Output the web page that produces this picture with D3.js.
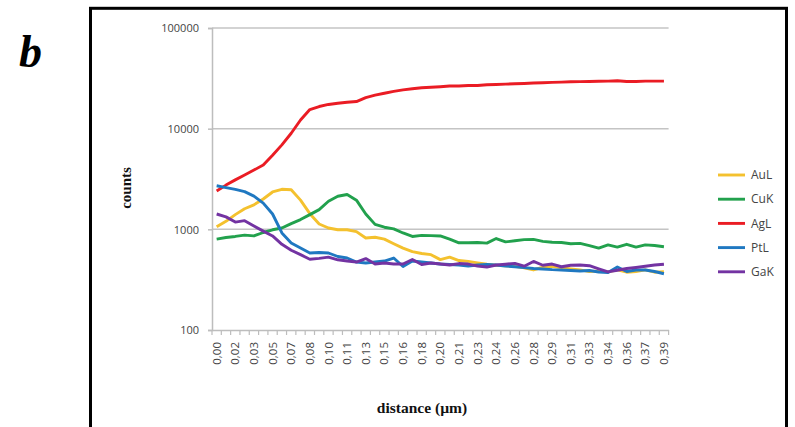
<!DOCTYPE html>
<html><head><meta charset="utf-8">
<script src="https://cdn.jsdelivr.net/npm/d3@7/dist/d3.min.js"></script>
<style>html,body{margin:0;padding:0;background:#fff;}svg{display:block;}</style>
</head><body>
<svg id="c" width="795" height="427"></svg>
<script>
const categories = ["0,00","0,01","0,02","0,02","0,03","0,04","0,05","0,06","0,07","0,07",
"0,08","0,09","0,10","0,11","0,11","0,12","0,13","0,14","0,15","0,15",
"0,16","0,17","0,18","0,19","0,20","0,20","0,21","0,22","0,23","0,24",
"0,24","0,25","0,26","0,27","0,28","0,28","0,29","0,30","0,31","0,32",
"0,33","0,33","0,34","0,35","0,36","0,37","0,37","0,38","0,39"];
const AuL = [1060,1200,1400,1600,1750,2000,2350,2500,2470,1950,
1430,1130,1030,990,990,950,820,835,800,720,
650,600,575,560,500,530,490,480,465,450,
440,435,430,415,395,420,430,415,405,395,
380,385,378,395,375,380,395,375,380];
const CuK = [800,830,850,875,860,930,990,1030,1140,1250,
1400,1570,1900,2130,2220,1950,1420,1120,1050,1010,
920,850,870,865,860,800,735,735,740,730,
810,750,770,790,795,760,745,740,720,725,
690,650,700,665,710,665,700,690,672];
const AgL = [2400,2750,3100,3460,3880,4350,5450,6900,9000,12200,
15500,16600,17400,17900,18300,18600,20300,21500,22500,23500,
24300,24900,25500,25800,26100,26500,26500,26800,26800,27300,
27500,27700,27900,28100,28400,28600,28800,29000,29200,29300,
29400,29600,29700,29900,29400,29400,29700,29700,29700];
const PtL = [2710,2600,2490,2370,2140,1820,1420,920,731,652,
582,588,582,537,519,473,463,473,484,519,
427,484,473,463,452,447,442,432,442,447,
442,432,425,417,408,404,398,394,390,386,
390,377,373,422,381,394,394,381,362];
const GaK = [1420,1330,1180,1220,1080,960,860,710,620,560,
505,515,530,498,484,473,512,452,463,452,
452,501,447,463,452,442,457,452,432,422,
442,450,459,430,480,440,452,425,440,442,
435,405,378,392,408,418,430,442,450];
const yTicks = [100,1000,10000,100000];
const seriesNames = ["AuL","CuK","AgL","PtL","GaK"];
const seriesColors = ["#f4c12e","#22a14d","#ea1c24","#1f78c1","#7333a2"];
const seriesData = [AuL,CuK,AgL,PtL,GaK];

const svg = d3.select("#c");
const L = 212, R = 668.6, T = 28, B = 330;

svg.append("rect").attr("x",90.5).attr("y",8.3).attr("width",696).attr("height",440)
  .attr("fill","none").attr("stroke","#000").attr("stroke-width",3);

svg.append("text").attr("x",19).attr("y",67).text("b")
  .attr("font-family","Liberation Serif, serif").attr("font-weight","bold").attr("font-style","italic")
  .attr("font-size",46).attr("fill","#000");

const idx = categories.map((d,i)=>i);
const x = d3.scaleBand().domain(idx).range([L,R]).padding(0);
const y = d3.scaleLog().domain([100,100000]).range([B,T]);

svg.append("g").selectAll("line").data(yTicks.filter(v=>v>100)).join("line")
  .attr("x1",L).attr("x2",R).attr("y1",d=>y(d)).attr("y2",d=>y(d))
  .attr("stroke","#c4c4c4").attr("stroke-width",1.5);

const yAxis = d3.axisLeft(y).tickValues(yTicks).tickFormat(d3.format("d")).tickSize(4).tickPadding(9);
const gy = svg.append("g").attr("transform",`translate(${L},0)`).call(yAxis);
gy.select(".domain").attr("stroke","#bdbdbd").attr("stroke-width",1.5);
gy.selectAll(".tick line").attr("stroke","#bdbdbd").attr("stroke-width",1.5);
gy.selectAll(".tick text").attr("font-family","Open Sans, Liberation Sans, sans-serif")
  .attr("font-size",11).attr("fill","#444").attr("dy","0.35em");

const xAxis = d3.axisBottom(x).tickSize(0).tickFormat(i=> i%2===0 ? categories[i] : "");
const gx = svg.append("g").attr("transform",`translate(0,${B})`).call(xAxis);
gx.select(".domain").attr("stroke","#bdbdbd").attr("stroke-width",1.5);
gx.selectAll(".tick text").attr("font-family","Open Sans, Liberation Sans, sans-serif")
  .attr("font-size",11.5).attr("fill","#444")
  .attr("transform","rotate(-90)").attr("text-anchor","end").attr("x",-12).attr("y",0).attr("dy","0.35em");
svg.append("g").selectAll("line").data(idx.concat([idx.length])).join("line")
  .attr("x1",d=>L + d*x.bandwidth()).attr("x2",d=>L + d*x.bandwidth())
  .attr("y1",B).attr("y2",B+5).attr("stroke","#bdbdbd").attr("stroke-width",1.2);

const line = d3.line().x((d,i)=>x(i)+x.bandwidth()/2).y(d=>y(d)).curve(d3.curveLinear);
seriesData.forEach((s,k)=>{
  svg.append("path").datum(s).attr("d",line).attr("fill","none")
    .attr("stroke",seriesColors[k]).attr("stroke-width",2.9).attr("stroke-linejoin","round");
});

const lg = svg.append("g");
seriesNames.forEach((n,k)=>{
  const yy = 175 + k*24.2;
  lg.append("line").attr("x1",718).attr("x2",745).attr("y1",yy).attr("y2",yy)
    .attr("stroke",seriesColors[k]).attr("stroke-width",2.9);
  lg.append("text").attr("x",751).attr("y",yy).attr("dy","0.35em").text(n)
    .attr("font-family","Open Sans, Liberation Sans, sans-serif").attr("font-size",12).attr("fill","#444");
});

svg.append("text").attr("transform","translate(131,188) rotate(-90)").attr("text-anchor","middle")
  .text("counts").attr("font-family","Liberation Serif, serif").attr("font-weight","bold")
  .attr("font-size",15).attr("fill","#111");
svg.append("text").attr("x",422).attr("y",413).attr("text-anchor","middle")
  .text("distance (µm)").attr("font-family","Liberation Serif, serif").attr("font-weight","bold")
  .attr("font-size",15.5).attr("fill","#111");
</script>
</body></html>
